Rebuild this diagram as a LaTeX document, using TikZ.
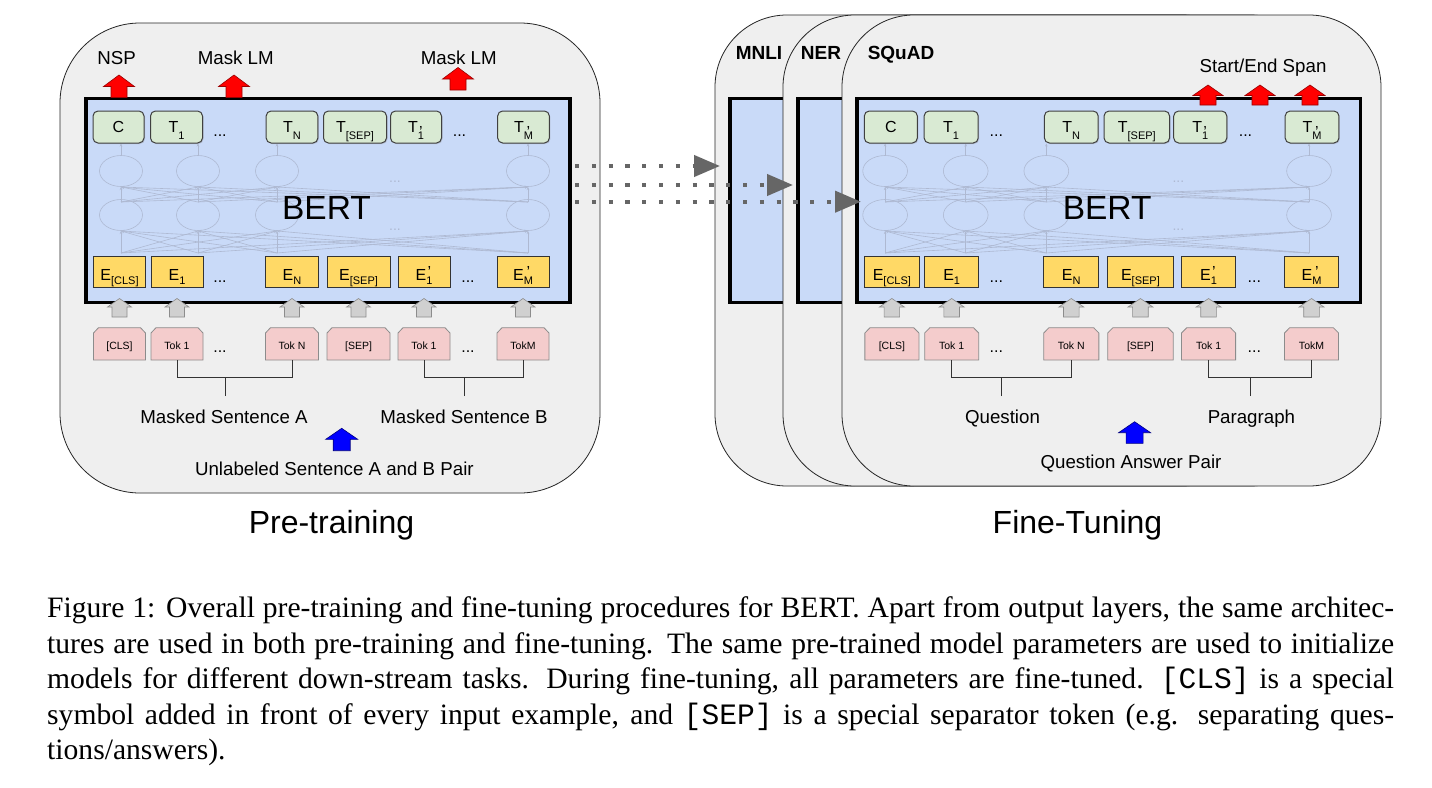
\documentclass[tikz,border=0pt]{standalone}
\usepackage{fontspec}
\setmainfont{Liberation Sans}
\setmonofont{Liberation Mono}
\newfontfamily\capfont{Liberation Serif}
\usetikzlibrary{arrows.meta,shadows}

\definecolor{panelgray}{HTML}{EFEFEF}
\definecolor{bertblue}{HTML}{C9DAF8}
\definecolor{tgreen}{HTML}{D9EAD3}
\definecolor{eyellow}{HTML}{FFD966}
\definecolor{tokpink}{HTML}{F4CCCC}
\definecolor{ghostline}{HTML}{AEB9D2}
\definecolor{dotgray}{HTML}{666666}
\definecolor{ingray}{HTML}{D0D0D0}

\newcommand\lsub[2]{\raisebox{#1}{\fontsize{11}{12}\selectfont #2}}
\newcommand\lsubp[3]{\ooalign{\lsub{#1}{#2}\cr\hfil\raisebox{#3}{’}\hfil\cr}}

\begin{document}
\begin{tikzpicture}[x=1pt, y=-1pt,
    panel/.style={draw=black!85, line width=0.8pt, fill=panelgray},
    bertbox/.style={draw=black, line width=3.8pt, fill=bertblue},
    tbox/.style={draw=black!75, line width=1pt, fill=tgreen, rounded corners=5pt,
      minimum height=32pt, inner sep=0pt, text height=10.6pt, text depth=0pt,
      font=\fontsize{16}{18}\selectfont,
      drop shadow={opacity=0.3, shadow xshift=1pt, shadow yshift=-1pt}},
    ebox/.style={draw=black!80, line width=0.8pt, fill=eyellow, minimum height=31.5pt,
      inner sep=0pt, text height=18pt, text depth=0pt, font=\fontsize{16}{18}\selectfont},
    tokbox/.style={draw=black!45, line width=0.8pt, fill=tokpink},
    toklabel/.style={inner sep=0pt, minimum height=32.3pt, text height=10.4pt, text depth=0pt,
      font=\fontsize{10.5}{12}\selectfont},
    dotlab/.style={anchor=base, inner sep=0pt, font=\fontsize{16}{18}\selectfont},
    ghost/.style={draw=ghostline, line width=0.6pt},
    ghostarr/.style={ghost, -{Stealth[length=3pt, width=2.5pt]}},
    ghostdots/.style={anchor=base, inner sep=0pt, text=ghostline, font=\fontsize{14}{16}\selectfont},
    bracket/.style={draw=black!80, line width=0.8pt},
    redarr/.style={fill=red, draw=red!60!black, line width=0.6pt},
    inarr/.style={fill=ingray, draw=black!45, line width=0.6pt},
    bluearr/.style={fill=blue, draw=blue!50!black, line width=0.6pt},
    lab/.style={anchor=base, inner sep=0pt, font=\fontsize{18.7}{22}\selectfont},
    task/.style={anchor=base, inner sep=0pt, font=\fontsize{19}{22}\selectfont\bfseries},
    bertlab/.style={anchor=base, inner sep=0pt, font=\fontsize{33.5}{38}\selectfont},
    big/.style={anchor=base, inner sep=0pt, font=\fontsize{32}{36}\selectfont},
    dotarrow/.style={draw=dotgray, line width=4.2pt, dash pattern=on 4.2pt off 12.6pt,
      -{Triangle[length=26pt, width=21pt]}},
    capnode/.style={anchor=north west, inner sep=0pt, align=left,
      font=\capfont\fontsize{29.6}{35.6}\selectfont}
  ]
  \fill[white] (0,0) rectangle (1432,787);
  \path[use as bounding box] (0,0) rectangle (1432,787);

  % block arrow pointing up: style, x, base, tip, shaft half, head half, head length
  \def\blockup#1#2#3#4#5#6#7{%
    \draw[#1] ({#2-#5},#3) -- ({#2-#5},{#4+#7}) -- ({#2-#6},{#4+#7}) -- (#2,#4)
      -- ({#2+#6},{#4+#7}) -- ({#2+#5},{#4+#7}) -- ({#2+#5},#3) -- cycle;}

  % one BERT model: name prefix, hidden columns, width factor
  \def\bertbody#1#2#3{%
    \draw[bertbox] (1,98.5) rectangle (485,302.5);
    \coordinate (#1east) at (485,200);
    \foreach \a in {#2} {
      \draw[ghost] (\a,171) ellipse [x radius=21.5, y radius=15.5];
      \draw[ghost] (\a,215) ellipse [x radius=21.5, y radius=15.5];
      \draw[ghostarr] (\a,155.5) -- (\a,143.5);
      \foreach \b in {#2} {
        \draw[ghostarr] (\b,202) -- (\a,187);
        \draw[ghostarr] (\b,253) -- (\a,231);
      }
    }
    \node[ghostdots] (#1gd1) at (310,182) {...};
    \node[ghostdots] (#1gd2) at (310,230) {...};
    \node[bertlab] (#1name) at (241.5,219) {BERT};
    \foreach \c/\w/\lab [count=\i] in {33.5/51/C, 91.5/52/T\lsub{-7pt}{1},
        207/51.7/T\lsub{-7pt}{N}, 270/63/T\lsub{-7pt}{[SEP]},
        331/51/T\lsubp{-7pt}{1}{-5.5pt}, 438.5/51.7/T\lsubp{-7pt}{M}{-5.5pt}}
      \node[tbox, minimum width=\w*#3] (#1t\i) at (\c,127) {\lab};
    \node[dotlab] (#1td1) at (135,136) {...};
    \node[dotlab] (#1td2) at (374.5,136) {...};
    \foreach \c/\w/\lab/\tok [count=\i] in {34.5/52/E\lsub{-4pt}{[CLS]}/{[CLS]},
        92/52/E\lsub{-4pt}{1}/Tok 1, 207/53/E\lsub{-4pt}{N}/Tok N,
        273.5/63/E\lsub{-4pt}{[SEP]}/{[SEP]}, 339/52/E\lsubp{-4pt}{1}{3pt}/Tok 1,
        438/52/E\lsubp{-4pt}{M}{3pt}/TokM} {
      \node[ebox, minimum width=\w*#3] (#1e\i) at (\c,271.75) {\lab};
      \blockup{inarr}{\c}{317}{298.5}{7.5}{12}{8.5}
      \draw[tokbox] ({\c-\w/2},360) -- ({\c-\w/2},333) -- ({\c-\w/2+5},327.7)
        -- ({\c+\w/2-5},327.7) -- ({\c+\w/2},333) -- ({\c+\w/2},360) -- cycle;
      \node[toklabel, minimum width=\w*#3] (#1k\i) at (\c,343.85) {\tok};
    }
    \node[dotlab] (#1ed1) at (135,282) {...};
    \node[dotlab] (#1ed2) at (383,282) {...};
    \node[dotlab] (#1kd1) at (135,352) {...};
    \node[dotlab] (#1kd2) at (383,352) {...};
    \draw[bracket] (#1k2.south) -- ++(0,17.3) -| (#1k3.south);
    \draw[bracket] (#1k5.south) -- ++(0,17.3) -| (#1k6.south);
    \coordinate (#1stemA) at (140,396);
    \coordinate (#1stemB) at (379.5,396);
    \draw[bracket] (#1stemA) -- ++(0,-18.7);
    \draw[bracket] (#1stemB) -- ++(0,-18.7);
  }

  % pre-training
  \draw[panel, rounded corners=80pt] (60,23) rectangle (600,493);
  \begin{scope}[xshift=85pt]
    \bertbody{L}{36,113,192,443}{1}
  \end{scope}
  \blockup{redarr}{119}{97.5}{75}{8}{15.5}{11.5}
  \blockup{redarr}{234}{97.5}{75}{8}{15.5}{11.5}
  \blockup{redarr}{458}{90}{67.5}{8}{15.5}{11.5}
  \node[lab] (nsp) at (116.7,64) {NSP};
  \node[lab] (mlmA) at (235.7,64) {Mask LM};
  \node[lab] (mlmB) at (458.8,64) {Mask LM};
  \node[lab] (sentA) at (224,423.5) {Masked Sentence A};
  \node[lab] (sentB) at (464,423.5) {Masked Sentence B};
  \blockup{bluearr}{341.7}{450.7}{428.3}{8.5}{16}{11}
  \node[lab] (pairL) at (334.4,475) {Unlabeled Sentence A and B Pair};
  \node[big] (pretrain) at (331.5,533.5) {Pre-training};

  % fine-tuning
  \draw[panel, rounded corners=72pt] (715,15) rectangle (1254,486);
  \draw[bertbox] (730,98.5) rectangle (800,302.5);
  \node[task] (mnli) at (759,59) {MNLI};
  \draw[panel, rounded corners=72pt] (783,15) rectangle (1322,486);
  \draw[bertbox] (798,98.5) rectangle (860,302.5);
  \node[task] (ner) at (821,59) {NER};
  \draw[panel, rounded corners=72pt] (842,15) rectangle (1381,486);
  \node[task] (squad) at (901,59) {SQuAD};
  \begin{scope}[xshift=856pt, xscale=1.04]
    \bertbody{R}{28,105.5,183,435.6}{1.04}
  \end{scope}
  \foreach \x in {1208,1260,1310} {
    \blockup{redarr}{\x}{105}{85}{8}{15}{10.5}
  }
  \node[lab] (span) at (1263,72) {Start/End Span};
  \node[lab] (quest) at (1002.5,423.5) {Question};
  \node[lab] (para) at (1251.4,423.5) {Paragraph};
  \blockup{bluearr}{1134.6}{443.3}{421.7}{8.5}{16}{11}
  \node[lab] (pairR) at (1131,468.5) {Question Answer Pair};
  \node[big] (finetune) at (1077.5,533) {Fine-Tuning};

  % transfer arrows
  \coordinate (srcA) at (575,166);
  \coordinate (srcB) at (575,185);
  \coordinate (srcC) at (575,201.7);
  \coordinate (tipA) at (720,166);
  \coordinate (tipB) at (793,185);
  \coordinate (tipC) at (861,201.7);
  \draw[dotarrow] (srcA) -- (tipA);
  \draw[dotarrow] (srcB) -- (tipB);
  \draw[dotarrow] (srcC) -- (tipC);

  \node[capnode] (caption) at (47,596.5) {%
    \makebox[1347pt][s]{Figure 1: Overall pre-training and fine-tuning procedures for BERT. Apart from output layers, the same architec-}\\
    \makebox[1347pt][s]{tures are used in both pre-training and fine-tuning. The same pre-trained model parameters are used to initialize}\\
    \makebox[1347pt][s]{models for different down-stream tasks. During fine-tuning, all parameters are fine-tuned. \texttt{[CLS]} is a special}\\
    \makebox[1347pt][s]{symbol added in front of every input example, and \texttt{[SEP]} is a special separator token (e.g. separating ques-}\\
    tions/answers).};
\end{tikzpicture}
\end{document}
